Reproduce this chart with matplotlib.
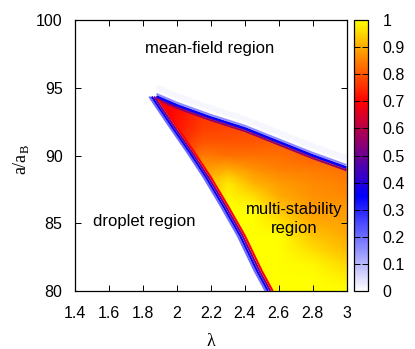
import numpy as np
import matplotlib
matplotlib.use("Agg")
import matplotlib.pyplot as plt
from matplotlib.colors import LinearSegmentedColormap
from matplotlib.patches import Polygon
from matplotlib.cm import ScalarMappable

# edges of the multi-stability wedge (lambda, a/a_B)
upper_lam = [1.88, 2.00, 2.20, 2.40, 2.60, 2.80, 3.00]
upper_a = [94.35, 93.70, 92.80, 92.00, 91.00, 90.00, 89.10]
lower_lam = [1.88, 1.99, 2.10, 2.20, 2.30, 2.40, 2.50, 2.565]
lower_a = [94.35, 92.30, 90.30, 88.40, 86.30, 84.10, 81.50, 80.00]

# values inside the wedge on a coarse grid (rows = a, columns = lambda)
field_lam = [1.87, 1.95, 2.05, 2.15, 2.30, 2.45, 2.60, 2.80, 3.00]
field_a = [80, 81, 82, 83, 84, 85, 86, 87, 88, 89, 90, 91, 92, 93, 94, 95]
field_val = [
    [0.70, 0.72, 0.80, 0.90, 1.00, 1.00, 1.00, 1.00, 1.00],  # 80
    [0.70, 0.72, 0.80, 0.90, 1.00, 1.00, 1.00, 1.00, 0.98],  # 81
    [0.70, 0.72, 0.80, 0.90, 1.00, 1.00, 1.00, 0.99, 0.95],  # 82
    [0.70, 0.72, 0.80, 0.90, 1.00, 1.00, 1.00, 0.96, 0.92],  # 83
    [0.70, 0.72, 0.80, 0.90, 1.00, 1.00, 1.00, 0.93, 0.90],  # 84
    [0.70, 0.72, 0.80, 0.90, 1.00, 1.00, 0.97, 0.90, 0.89],  # 85
    [0.70, 0.72, 0.80, 0.90, 1.00, 1.00, 0.93, 0.88, 0.88],  # 86
    [0.70, 0.72, 0.80, 0.90, 0.99, 0.96, 0.90, 0.87, 0.86],  # 87
    [0.70, 0.72, 0.80, 0.90, 0.97, 0.91, 0.88, 0.86, 0.85],  # 88
    [0.70, 0.72, 0.80, 0.88, 0.90, 0.87, 0.85, 0.84, 0.83],  # 89
    [0.70, 0.72, 0.78, 0.84, 0.83, 0.83, 0.83, 0.81, 0.82],  # 90
    [0.70, 0.72, 0.76, 0.80, 0.80, 0.80, 0.81, 0.80, 0.82],  # 91
    [0.70, 0.71, 0.74, 0.77, 0.78, 0.79, 0.80, 0.80, 0.82],  # 92
    [0.70, 0.70, 0.73, 0.76, 0.77, 0.78, 0.80, 0.80, 0.82],  # 93
    [0.70, 0.70, 0.72, 0.75, 0.77, 0.78, 0.80, 0.80, 0.82],  # 94
    [0.70, 0.70, 0.72, 0.75, 0.77, 0.78, 0.80, 0.80, 0.82],  # 95
]

# colour values of the cell rows along the two edges
upper_edge_vals = [0.16, 0.36, 0.55]          # outside, edge, inside
lower_edge_vals = [0.20, 0.36, 0.50, 0.70]    # outermost -> innermost

x_ticks = [1.4, 1.6, 1.8, 2.0, 2.2, 2.4, 2.6, 2.8, 3.0]
x_labels = ["1.4", "1.6", "1.8", "2", "2.2", "2.4", "2.6", "2.8", "3"]
y_ticks = [80, 85, 90, 95, 100]
cb_ticks = [0, 0.1, 0.2, 0.3, 0.4, 0.5, 0.6, 0.7, 0.8, 0.9, 1]
cb_labels = ["0", "0.1", "0.2", "0.3", "0.4", "0.5", "0.6", "0.7", "0.8", "0.9", "1"]

# gnuplot-like palette: white -> blue -> purple -> red -> yellow
cmap = LinearSegmentedColormap.from_list("wbry", [
    (0.0, (1, 1, 1)),
    (0.35, (0, 0, 1)),
    (0.7, (1, 0, 0)),
    (1.0, (1, 1, 0)),
])

plt.rcParams["font.family"] = ["Liberation Sans", "DejaVu Sans"]
fs = 11.5

fig = plt.figure(figsize=(4.15, 3.49), dpi=100)
ax = fig.add_axes([75 / 415, 58 / 349, 271.5 / 415, 271 / 349])
cax = fig.add_axes([353.5 / 415, 58 / 349, 14 / 415, 271 / 349])

L, A = np.meshgrid(field_lam, field_a)
mesh = ax.pcolormesh(L, A, np.array(field_val), cmap=cmap, vmin=0, vmax=1,
                     shading="gouraud", zorder=1)
wedge_pts = list(zip(upper_lam, upper_a)) + [(3.0, 80.0)] + list(zip(lower_lam[::-1], lower_a[::-1]))
wedge = Polygon(wedge_pts, closed=True, transform=ax.transData, facecolor="none", edgecolor="none")
mesh.set_clip_path(wedge)

ua = np.array(upper_a)
# very faint trace above the upper edge
ax.plot(upper_lam, ua + 0.7, color=cmap(0.012), lw=4, zorder=2, solid_capstyle="butt")
ax.plot(upper_lam, ua + 0.2, color=cmap(upper_edge_vals[0]), lw=1.4, zorder=3, solid_capstyle="butt")
ax.plot(upper_lam, ua - 0.2, color=cmap(upper_edge_vals[2]), lw=1.3, zorder=3, solid_capstyle="butt")
ax.plot(upper_lam, ua, color=cmap(upper_edge_vals[1]), lw=2.0, zorder=4, solid_capstyle="butt")

ll = np.array(lower_lam)
for k, v in enumerate(lower_edge_vals):
    shift = -0.014 * (len(lower_edge_vals) - 1 - k)
    ax.plot(ll + shift, lower_a, color=cmap(v), lw=1.5, zorder=3 + k * 0.1, solid_capstyle="butt")

ax.text(2.196, 97.9, "mean-field region", ha="center", va="center", fontsize=12)
ax.text(1.81, 85.1, "droplet region", ha="center", va="center", fontsize=12)
ax.text(2.693, 86.0, "multi-stability", ha="center", va="center", fontsize=12, zorder=6)
ax.text(2.693, 84.6, "region", ha="center", va="center", fontsize=12, zorder=6)

ax.set_xlim(1.4, 3.0)
ax.set_ylim(80, 100)
ax.set_xticks(x_ticks)
ax.set_xticklabels(x_labels)
ax.set_yticks(y_ticks)
ax.tick_params(direction="in", top=True, right=True, length=4, width=0.7, labelsize=fs)
ax.tick_params(axis="x", pad=11)
ax.tick_params(axis="y", pad=9)
for s in ax.spines.values():
    s.set_linewidth(0.9)

fig.text(21 / 415, 1 - 160 / 349, "a/a$_\\mathregular{B}$", rotation=90, ha="center", va="center",
         fontsize=13, family="Liberation Serif")
fig.text(210.7 / 415, 1 - 341 / 349, "\u03bb", ha="center", va="center", fontsize=13,
         family="Liberation Serif")

sm = ScalarMappable(cmap=cmap, norm=plt.Normalize(0, 1))
cb = fig.colorbar(sm, cax=cax)
cb.set_ticks(cb_ticks)
cb.set_ticklabels(cb_labels)
cb.outline.set_linewidth(0.9)
cax.tick_params(direction="in", left=True, right=True, length=4, width=0.7, labelsize=fs, pad=11)

fig.savefig("out.png", dpi=100)
